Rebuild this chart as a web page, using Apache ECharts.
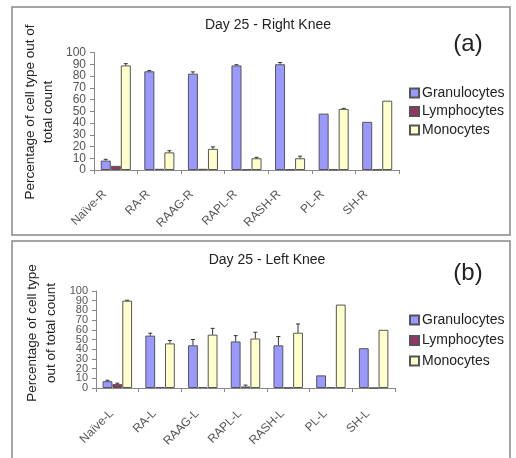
<!DOCTYPE html>
<html>
<head>
<meta charset="utf-8">
<script src="https://cdn.jsdelivr.net/npm/echarts@6.0.0/dist/echarts.min.js"></script>
<style>html,body{margin:0;padding:0;background:#fff}#c{width:516px;height:458px}</style>
</head>
<body>
<div id="c"></div>
<script>
// ---- Data ----
const catsR = ['Naïve-R','RA-R','RAAG-R','RAPL-R','RASH-R','PL-R','SH-R'];
const granR = [8, 84, 82, 89, 90, 48, 41];
const lymphR = [3.5, 1, 1, 0.5, 0.5, 0.5, 0.5];
const monoR = [89, 15, 18, 10, 10, 52, 59];
const granErrR = [1.1, 0.6, 1.5, 0.6, 1.5, 0, 0];
const lymphErrR = [0, 0, 0, 0, 0, 0, 0];
const monoErrR = [1.5, 1.4, 1.7, 0.8, 1.8, 0.5, 0];

const catsL = ['Naïve-L','RA-L','RAAG-L','RAPL-L','RASH-L','PL-L','SH-L'];
const granL = [7, 54, 44, 48, 44, 13, 41];
const lymphL = [4, 1, 1, 1.5, 0.5, 1, 0];
const monoL = [90, 46, 55, 51, 57, 86, 60];
const granErrL = [1, 2.5, 6, 6, 9, 0, 0];
const lymphErrL = [1, 0, 0, 1.5, 0, 0, 0];
const monoErrL = [0.5, 3, 6.5, 6.5, 9, 0, 0];

const yTicks = [0,10,20,30,40,50,60,70,80,90,100];
const seriesNames = ['Granulocytes','Lymphocytes','Monocytes'];
const colors = ['#9999FF','#993366','#FFFFCC'];

// ---- Chart ----
const FONT = 'Liberation Sans, Arial, sans-serif';
const GAP = 0.31;
const chart = echarts.init(document.getElementById('c'), null, {renderer:'canvas'});

function errData(g, l, m, gv, lv, mv) {
  const out = [];
  for (let i = 0; i < g.length; i++) {
    out.push([i, 0, g[i], gv[i]]);
    out.push([i, 1, l[i], lv[i]]);
    out.push([i, 2, m[i], mv[i]]);
  }
  return out;
}
function renderErr(params, api) {
  const i = api.value(0), s = api.value(1), v = api.value(2), e = api.value(3);
  if (!e) return null;
  const p = api.coord([i, v]);
  const p2 = api.coord([i, v + e]);
  const bw = api.size([1, 0])[0] * (1 - GAP) / 3;
  const x = p[0] + (s - 1) * bw;
  const st = {stroke: '#333', lineWidth: 1};
  return {type: 'group', children: [
    {type: 'line', shape: {x1: x, y1: p[1], x2: x, y2: p2[1]}, style: st},
    {type: 'line', shape: {x1: x - 2, y1: p2[1], x2: x + 2, y2: p2[1]}, style: st}
  ]};
}
function barSeries(idx, vals, name) {
  return {
    type: 'bar', name: name, xAxisIndex: idx, yAxisIndex: idx,
    data: vals, barGap: '0%', barCategoryGap: (GAP*100) + '%',
    itemStyle: {color: colors[seriesNames.indexOf(name)], borderColor: '#555', borderWidth: 1},
    emphasis: {disabled: true}, animation: false
  };
}
function xAxis(idx, cats, margin, pad) {
  return {
    type: 'category', gridIndex: idx, data: cats,
    axisLine: {lineStyle: {color: '#888', width: 1}},
    axisTick: {show: true, length: 4, lineStyle: {color: '#888'}},
    axisLabel: {rotate: 45, fontSize: 12, color: '#555', fontFamily: FONT, margin: margin, padding: pad, interval: 0},
    splitLine: {show: false}
  };
}
// Two value axes per grid share the same scale: one labels the even tens, the other the odd tens,
// so that ECharts' min/max overlap check never hides a label.
function yAxis(idx, fs, even) {
  return {
    type: 'value', gridIndex: idx, position: 'left', offset: 0,
    min: yTicks[0], max: yTicks[yTicks.length-1], interval: 10,
    axisLine: {show: even, onZero: false, lineStyle: {color: '#888', width: 1}},
    axisTick: {show: even, length: 4, lineStyle: {color: '#888'}},
    axisLabel: {fontSize: fs, color: '#555', fontFamily: FONT, margin: 8,
      showMinLabel: even, showMaxLabel: even,
      formatter: v => ((Math.round(v / 10) % 2 === 0) === even ? String(v) : '')},
    splitLine: {show: false}
  };
}
function legend(top, gap) {
  return {
    orient: 'vertical', left: 409, top: top, itemGap: gap, itemWidth: 9, itemHeight: 9, padding: 0,
    icon: 'rect', data: seriesNames, selectedMode: false,
    textStyle: {fontSize: 14, color: '#222', fontFamily: FONT, padding: [0,0,0,-2]}
  };
}

const option = {
  backgroundColor: '#fff',
  animation: false,
  title: [
    {text: 'Day 25 - Right Knee', left: 263, top: 13, textAlign: 'center', textStyle: {fontSize: 14, fontWeight: 'normal', color: '#222', fontFamily: FONT}},
    {text: 'Day 25 - Left Knee', left: 262, top: 248, textAlign: 'center', textStyle: {fontSize: 14, fontWeight: 'normal', color: '#222', fontFamily: FONT}}
  ],
  grid: [
    {left: 94, width: 305, top: 52.5, height: 117.5},
    {left: 96, width: 299, top: 291, height: 97}
  ],
  legend: [legend(86, 4.5), legend(313, 6.5)],
  xAxis: [xAxis(0, catsR, 11, [0, 16, 0, 0]), xAxis(1, catsL, 18, [0, 8, 0, 0])],
  yAxis: [yAxis(0, 12, true), yAxis(1, 11, true), yAxis(0, 12, false), yAxis(1, 11, false)],
  series: [
    barSeries(0, granR, 'Granulocytes'),
    barSeries(0, lymphR, 'Lymphocytes'),
    barSeries(0, monoR, 'Monocytes'),
    {type: 'custom', xAxisIndex: 0, yAxisIndex: 0, renderItem: renderErr, z: 5,
     encode: {x: 0, y: 2}, data: errData(granR, lymphR, monoR, granErrR, lymphErrR, monoErrR)},
    barSeries(1, granL, 'Granulocytes'),
    barSeries(1, lymphL, 'Lymphocytes'),
    barSeries(1, monoL, 'Monocytes'),
    {type: 'custom', xAxisIndex: 1, yAxisIndex: 1, renderItem: renderErr, z: 5,
     encode: {x: 0, y: 2}, data: errData(granL, lymphL, monoL, granErrL, lymphErrL, monoErrL)}
  ],
  graphic: [
    {type: 'rect', shape: {x: 12, y: 7, width: 498, height: 228}, style: {fill: 'none', stroke: '#888', lineWidth: 1.5}, silent: true},
    {type: 'rect', shape: {x: 12, y: 241, width: 498, height: 240}, style: {fill: 'none', stroke: '#888', lineWidth: 1.5}, silent: true},
    {type: 'text', x: 468, y: 44, style: {text: '(a)', fontSize: 24, fill: '#222', fontFamily: FONT, align: 'center', verticalAlign: 'middle'}},
    {type: 'text', x: 468, y: 273, style: {text: '(b)', fontSize: 24, fill: '#222', fontFamily: FONT, align: 'center', verticalAlign: 'middle'}},
    {type: 'text', x: 39, y: 112, rotation: Math.PI/2, style: {text: 'Percentage of cell type out of\ntotal count', fontSize: 13.5, lineHeight: 18, fill: '#222', fontFamily: FONT, align: 'center', verticalAlign: 'middle'}},
    {type: 'text', x: 42, y: 333, rotation: Math.PI/2, style: {text: 'Percentage of cell type\nout of total count', fontSize: 13.5, lineHeight: 19, fill: '#222', fontFamily: FONT, align: 'center', verticalAlign: 'middle'}}
  ]
};
chart.setOption(option);
</script>
</body>
</html>
